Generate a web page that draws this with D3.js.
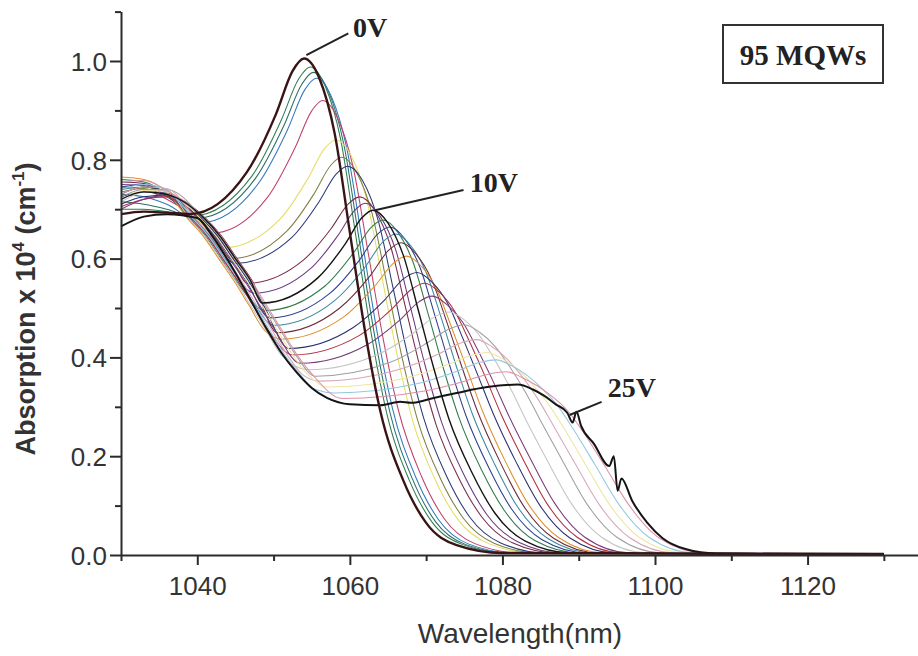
<!DOCTYPE html>
<html>
<head>
<meta charset="utf-8">
<script src="https://cdn.jsdelivr.net/npm/d3@7"></script>
<style>
  body { margin: 0; background: #fff; }
  svg { display: block; }
</style>
</head>
<body>
<svg id="chart" width="918" height="656"></svg>
<script>
// axis ticks
const wavelengthTicks = [1040, 1060, 1080, 1100, 1120];
const wavelengthMinor = [1030, 1050, 1070, 1090, 1110, 1130];
const absorptionTicks = [0, 0.2, 0.4, 0.6, 0.8, 1.0];
const absorptionMinor = [0.1, 0.3, 0.5, 0.7, 0.9, 1.1];

// one spectrum per bias voltage, [wavelength nm, absorption x1e4 cm-1]
const c00 = [[1030,0.69],[1033,0.695],[1036,0.693],[1039,0.69],[1046.5,0.775],[1050.3,0.892],[1052.5,0.98],[1054,1.005],[1056,0.965],[1058,0.854],[1060,0.653],[1062,0.452],[1064,0.291],[1067,0.151],[1070,0.065],[1074,0.02],[1080,0.004],[1130,0.002]];
const c01 = [[1030,0.70],[1033,0.70],[1036,0.695],[1039.5,0.687],[1047.2,0.768],[1051,0.88],[1053.3,0.964],[1054.8,0.988],[1056.8,0.948],[1058.8,0.841],[1060.8,0.644],[1062.8,0.448],[1064.8,0.289],[1067.8,0.151],[1070.8,0.066],[1074.8,0.021],[1080.8,0.004],[1130,0.002]];
const c02 = [[1030,0.715],[1033,0.71],[1036,0.70],[1040,0.682],[1047.6,0.762],[1051.4,0.871],[1053.7,0.953],[1055.2,0.977],[1057.2,0.938],[1059.2,0.832],[1061.2,0.64],[1063.2,0.448],[1065.2,0.292],[1068.2,0.154],[1071.2,0.068],[1075.2,0.021],[1081.2,0.004],[1130,0.002]];
const c03 = [[1030,0.73],[1033,0.725],[1036,0.71],[1040.5,0.673],[1048,0.752],[1051.8,0.86],[1054.1,0.942],[1055.6,0.965],[1057.6,0.927],[1059.6,0.823],[1061.6,0.637],[1063.6,0.449],[1065.6,0.296],[1068.6,0.159],[1071.6,0.072],[1075.6,0.022],[1081.6,0.004],[1130,0.002]];
const c04 = [[1030,0.745],[1033,0.74],[1036,0.72],[1040,0.68],[1042,0.652],[1049.2,0.724],[1052.8,0.824],[1055,0.899],[1056.4,0.92],[1058.4,0.884],[1060.4,0.787],[1062.4,0.612],[1064.4,0.435],[1066.4,0.291],[1069.4,0.159],[1072.4,0.073],[1076.4,0.023],[1082.4,0.004],[1130,0.002]];
const c05 = [[1030,0.74],[1033,0.745],[1036,0.728],[1040,0.68],[1043.5,0.622],[1050.9,0.681],[1054.5,0.762],[1056.7,0.823],[1058.2,0.84],[1060.2,0.807],[1062.2,0.72],[1064.2,0.563],[1066.2,0.405],[1068.2,0.274],[1071.2,0.152],[1074.2,0.071],[1078.2,0.023],[1084.2,0.004],[1130,0.002]];
const c06 = [[1030,0.735],[1033,0.742],[1036,0.726],[1040.3,0.68],[1042.3,0.645],[1044.5,0.60],[1051.7,0.655],[1055.3,0.731],[1057.5,0.789],[1058.9,0.805],[1060.9,0.774],[1062.9,0.692],[1064.9,0.545],[1066.9,0.396],[1068.9,0.272],[1071.9,0.154],[1074.9,0.074],[1078.9,0.024],[1084.9,0.004],[1130,0.002]];
const c07 = [[1030,0.725],[1033,0.735],[1036,0.725],[1039.7,0.68],[1041.7,0.645],[1045,0.59],[1052.4,0.643],[1056,0.716],[1058.2,0.771],[1059.7,0.787],[1061.7,0.757],[1063.7,0.678],[1065.7,0.538],[1067.7,0.396],[1069.7,0.276],[1072.7,0.159],[1075.7,0.077],[1079.7,0.025],[1085.7,0.004],[1130,0.002]];
const c08 = [[1030,0.755],[1033,0.752],[1036,0.728],[1040.6,0.68],[1042.6,0.645],[1044.6,0.60],[1046.5,0.55],[1053.9,0.597],[1057.6,0.662],[1059.8,0.711],[1061.3,0.725],[1063.3,0.697],[1065.3,0.627],[1067.3,0.501],[1069.3,0.374],[1071.3,0.264],[1074.3,0.155],[1077.3,0.077],[1081.3,0.025],[1087.3,0.004],[1130,0.002]];
const c09 = [[1030,0.75],[1033,0.748],[1036,0.726],[1039.4,0.68],[1041.4,0.645],[1043.4,0.60],[1045.4,0.555],[1047.5,0.53],[1054.8,0.579],[1058.4,0.646],[1060.6,0.697],[1062,0.712],[1064,0.685],[1066,0.618],[1068,0.498],[1070,0.376],[1072,0.27],[1075,0.161],[1078,0.081],[1082,0.027],[1088,0.004],[1130,0.002]];
const c10 = [[1030,0.72],[1033,0.735],[1036,0.73],[1041,0.68],[1043,0.645],[1045,0.60],[1047,0.555],[1048.5,0.51],[1055.8,0.561],[1059.4,0.63],[1061.6,0.683],[1063,0.698],[1065,0.672],[1067,0.607],[1069,0.494],[1071,0.378],[1073,0.275],[1076,0.167],[1079,0.085],[1083,0.028],[1089,0.004],[1130,0.002]];
const c11 = [[1030,0.76],[1033,0.755],[1036,0.73],[1039.1,0.68],[1041.1,0.645],[1043.1,0.60],[1045.1,0.555],[1049,0.495],[1056.7,0.544],[1060.5,0.612],[1062.8,0.663],[1064.3,0.678],[1066.3,0.653],[1068.3,0.592],[1070.3,0.486],[1072.3,0.376],[1074.3,0.278],[1077.3,0.171],[1080.3,0.089],[1084.3,0.029],[1090.3,0.004],[1130,0.002]];
const c12 = [[1030,0.745],[1033,0.75],[1036,0.73],[1040.4,0.68],[1042.4,0.645],[1044.4,0.60],[1046.4,0.555],[1049.5,0.48],[1057.4,0.53],[1061.3,0.598],[1063.6,0.649],[1065.2,0.664],[1067.2,0.64],[1069.2,0.582],[1071.2,0.482],[1073.2,0.378],[1075.2,0.283],[1078.2,0.177],[1081.2,0.093],[1085.2,0.031],[1091.2,0.004],[1130,0.002]];
const c13 = [[1030,0.74],[1033,0.745],[1036,0.732],[1039.6,0.68],[1041.6,0.645],[1043.6,0.60],[1045.6,0.555],[1047.6,0.505],[1050,0.465],[1058,0.515],[1062,0.583],[1064.4,0.635],[1066,0.65],[1068,0.626],[1070,0.572],[1072,0.479],[1074,0.38],[1076,0.288],[1079,0.183],[1082,0.097],[1086,0.033],[1092,0.004],[1130,0.002]];
const c14 = [[1030,0.73],[1033,0.745],[1036,0.735],[1041.2,0.68],[1043.2,0.645],[1045.2,0.60],[1047.2,0.555],[1050.5,0.45],[1058.6,0.499],[1062.7,0.566],[1065.1,0.617],[1066.7,0.632],[1068.7,0.609],[1070.7,0.558],[1072.7,0.472],[1074.7,0.38],[1076.7,0.292],[1079.7,0.188],[1082.7,0.101],[1086.7,0.034],[1092.7,0.004],[1130,0.002]];
const c15 = [[1030,0.765],[1033,0.76],[1036,0.735],[1038.8,0.68],[1040.8,0.645],[1042.8,0.60],[1044.8,0.555],[1046.8,0.505],[1048.8,0.455],[1051,0.437],[1059.2,0.482],[1063.3,0.545],[1065.8,0.592],[1067.4,0.605],[1069.4,0.584],[1071.4,0.537],[1073.4,0.458],[1075.4,0.374],[1077.4,0.291],[1080.4,0.189],[1083.4,0.103],[1087.4,0.035],[1093.4,0.004],[1130,0.002]];
const c16 = [[1030,0.71],[1033,0.725],[1036,0.728],[1040.7,0.68],[1042.7,0.645],[1044.7,0.60],[1046.7,0.555],[1048.7,0.505],[1052,0.418],[1060.4,0.46],[1064.6,0.517],[1067.1,0.56],[1068.8,0.572],[1070.8,0.552],[1072.8,0.51],[1074.8,0.439],[1076.8,0.363],[1078.8,0.286],[1081.8,0.188],[1084.8,0.103],[1088.8,0.035],[1094.8,0.004],[1130,0.002]];
const c17 = [[1030,0.705],[1033,0.72],[1036,0.725],[1039.3,0.68],[1041.3,0.645],[1043.3,0.60],[1045.3,0.555],[1047.3,0.505],[1049.3,0.455],[1052.5,0.405],[1061.2,0.444],[1065.5,0.498],[1068.1,0.538],[1069.8,0.55],[1071.8,0.531],[1073.8,0.492],[1075.8,0.428],[1077.8,0.359],[1079.8,0.286],[1082.8,0.191],[1085.8,0.105],[1089.8,0.036],[1095.8,0.004],[1130,0.002]];
const c18 = [[1030,0.70],[1033,0.72],[1036,0.728],[1040.2,0.68],[1042.2,0.645],[1044.2,0.60],[1046.2,0.555],[1048.2,0.505],[1050.2,0.455],[1053.5,0.388],[1062.2,0.425],[1066.5,0.475],[1069.1,0.513],[1070.8,0.524],[1072.8,0.506],[1074.8,0.471],[1076.8,0.414],[1078.8,0.351],[1080.8,0.283],[1083.8,0.191],[1086.8,0.106],[1090.8,0.036],[1096.8,0.004],[1130,0.002]];
const c19 = [[1030,0.715],[1033,0.735],[1036,0.738],[1039,0.68],[1041,0.645],[1043,0.60],[1045,0.555],[1047,0.505],[1049,0.455],[1051,0.405],[1054.5,0.375],[1063.8,0.407],[1068.4,0.45],[1071.2,0.483],[1073,0.492],[1075,0.476],[1077,0.444],[1079,0.395],[1081,0.339],[1083,0.276],[1086,0.188],[1089,0.105],[1093,0.036],[1099,0.004],[1130,0.002]];
const c20 = [[1030,0.725],[1033,0.74],[1036,0.74],[1040.9,0.68],[1042.9,0.645],[1044.9,0.60],[1046.9,0.555],[1048.9,0.505],[1050.9,0.455],[1052.9,0.405],[1055.5,0.362],[1065.3,0.39],[1070.1,0.429],[1073.1,0.458],[1075,0.466],[1077,0.451],[1079,0.423],[1081,0.38],[1083,0.33],[1085,0.272],[1088,0.187],[1091,0.105],[1095,0.036],[1101,0.004],[1130,0.002]];
const c21 = [[1030,0.73],[1033,0.745],[1036,0.742],[1039.8,0.68],[1041.8,0.645],[1043.8,0.60],[1045.8,0.555],[1047.8,0.505],[1049.8,0.455],[1051.8,0.405],[1053.8,0.365],[1056,0.352],[1066.3,0.375],[1071.5,0.406],[1074.5,0.429],[1076.6,0.436],[1078.6,0.422],[1080.6,0.397],[1082.6,0.361],[1084.6,0.317],[1086.6,0.264],[1089.6,0.183],[1092.6,0.104],[1096.6,0.036],[1102.6,0.004],[1130,0.002]];
const c22 = [[1030,0.72],[1033,0.738],[1036,0.735],[1040.5,0.68],[1042.5,0.645],[1044.5,0.60],[1046.5,0.555],[1048.5,0.505],[1050.5,0.455],[1052.5,0.405],[1054.5,0.365],[1057,0.34],[1067.5,0.359],[1072.8,0.385],[1075.9,0.404],[1078,0.41],[1080,0.397],[1082,0.376],[1084,0.344],[1086,0.306],[1088,0.258],[1091,0.18],[1094,0.103],[1098,0.035],[1104,0.004],[1130,0.002]];
const c23 = [[1030,0.74],[1033,0.75],[1036,0.74],[1039.5,0.68],[1041.5,0.645],[1043.5,0.60],[1045.5,0.555],[1047.5,0.505],[1049.5,0.455],[1051.5,0.405],[1053.5,0.365],[1055.5,0.335],[1058,0.328],[1068.6,0.346],[1073.9,0.371],[1077.1,0.39],[1079.2,0.395],[1081.2,0.383],[1083.2,0.364],[1085.2,0.337],[1087.2,0.303],[1089.2,0.257],[1092.2,0.181],[1095.2,0.104],[1099.2,0.036],[1105.2,0.004],[1130,0.002]];
const c24 = [[1030,0.755],[1033,0.758],[1036,0.738],[1041.1,0.68],[1043.1,0.645],[1045.1,0.60],[1047.1,0.555],[1049.1,0.505],[1051.1,0.455],[1053.1,0.405],[1055.1,0.365],[1059,0.317],[1069.8,0.332],[1075.1,0.352],[1078.4,0.367],[1080.5,0.371],[1082.5,0.36],[1084.5,0.343],[1086.5,0.321],[1088.5,0.293],[1090.5,0.251],[1093.5,0.178],[1096.5,0.103],[1100.5,0.035],[1106.5,0.004],[1130,0.002]];
const c25 = [[1030,0.665],[1033,0.685],[1036,0.69],[1040,0.682],[1042,0.645],[1044,0.597],[1046.5,0.53],[1049,0.46],[1051,0.41],[1053,0.37],[1055,0.338],[1057,0.318],[1060,0.305],[1064,0.303],[1066.6,0.31],[1068,0.308],[1071,0.318],[1074,0.328],[1078,0.34],[1082,0.345],[1084,0.335],[1085.5,0.322],[1087,0.305],[1088.5,0.288],[1089.2,0.268],[1089.7,0.29],[1090.3,0.262],[1092,0.225],[1094,0.18],[1094.6,0.2],[1095.1,0.13],[1095.6,0.155],[1097,0.11],[1099,0.065],[1101,0.034],[1104,0.012],[1108,0.003],[1130,0.002]];

const spectra = [c00, c01, c02, c03, c04, c05, c06, c07, c08, c09, c10, c11, c12,
  c13, c14, c15, c16, c17, c18, c19, c20, c21, c22, c23, c24, c25];

const curveColors = ['#3a1414', '#2f7d4f', '#2a6e66', '#2f78c0', '#c0406a', '#e6dc68',
  '#7f8040', '#2a3a7a', '#7a2a4a', '#6a3a80', '#151515', '#2e7a4a', '#2a3f8f',
  '#3a8aa0', '#6a2a3a', '#e0902e', '#2a2f70', '#b03040', '#7a3a7a', '#c4c4c4',
  '#a0a0a0', '#d8a8b8', '#efe6a0', '#94c8e0', '#e090a8', '#151515'];

const callouts = [
  { text: '0V', from: [1054.3, 1.012], to: [1059.8, 1.056], at: [1060.4, 1.0486] },
  { text: '10V', from: [1063.3, 0.698], to: [1074.9, 0.739], at: [1075.7, 0.7354] },
  { text: '25V', from: [1088.8, 0.2834], to: [1093.0, 0.310], at: [1093.8, 0.320] },
];

const svg = d3.select('#chart');
svg.append('rect').attr('width', 918).attr('height', 656).attr('fill', '#fff');

let x = d3.scaleLinear().domain([1030, 1135]).range([121, 922]);
let y = d3.scaleLinear().domain([0, 1.1]).range([555, 11.6]);

let line = d3
  .line()
  .x(d => x(d[0]))
  .y(d => y(d[1]))
  .curve(d3.curveMonotoneX);

// thin curves first, the labelled ones on top
let order = d3.range(1, 25).filter(i => i !== 10).concat([10, 25, 0]);

svg
  .append('g')
  .attr('class', 'spectra')
  .selectAll('path')
  .data(order)
  .enter()
  .append('path')
  .attr('d', i => line(spectra[i]))
  .attr('fill', 'none')
  .attr('stroke', i => curveColors[i])
  .attr('stroke-width', i => (i === 0 ? 2.4 : i === 25 ? 2 : i === 10 ? 1.4 : 1.05))
  .attr('stroke-linejoin', 'round');

// axes
let axisColor = '#2b2b2b';

let xAxis = svg
  .append('g')
  .attr('transform', 'translate(0,555)')
  .call(d3.axisBottom(x).tickValues(wavelengthTicks).tickSize(10).tickSizeOuter(0).tickFormat(d3.format('d')));
svg
  .append('g')
  .attr('transform', 'translate(0,555)')
  .call(d3.axisBottom(x).tickValues(wavelengthMinor).tickSize(6).tickSizeOuter(0).tickFormat(''))
  .select('.domain')
  .remove();

let yAxis = svg
  .append('g')
  .attr('transform', 'translate(121,0)')
  .call(d3.axisLeft(y).tickValues(absorptionTicks).tickSize(11).tickSizeOuter(0).tickFormat(d3.format('.1f')));
svg
  .append('g')
  .attr('transform', 'translate(121,0)')
  .call(d3.axisLeft(y).tickValues(absorptionMinor).tickSize(6).tickSizeOuter(0).tickFormat(''))
  .select('.domain')
  .remove();

svg.selectAll('.domain, .tick line').attr('stroke', axisColor).attr('stroke-width', 2);

xAxis
  .selectAll('.tick text')
  .attr('y', 0)
  .attr('dy', 0)
  .attr('transform', 'translate(0,40)')
  .attr('font-family', 'Liberation Sans, Arial, sans-serif')
  .attr('font-size', 26)
  .attr('fill', '#333');

yAxis
  .selectAll('.tick text')
  .attr('x', -14)
  .attr('dy', '0.36em')
  .attr('font-family', 'Liberation Sans, Arial, sans-serif')
  .attr('font-size', 26)
  .attr('fill', '#333');

// axis titles
svg
  .append('text')
  .attr('x', 520)
  .attr('y', 643)
  .attr('text-anchor', 'middle')
  .attr('font-family', 'Liberation Sans, Arial, sans-serif')
  .attr('font-size', 28)
  .attr('fill', '#333')
  .text('Wavelength(nm)');

let yTitle = svg
  .append('text')
  .attr('transform', 'translate(35,309) rotate(-90)')
  .attr('text-anchor', 'middle')
  .attr('font-family', 'Liberation Sans, Arial, sans-serif')
  .attr('font-weight', 'bold')
  .attr('font-size', 27)
  .attr('fill', '#333');
yTitle.append('tspan').text('Absorption x 10');
yTitle.append('tspan').attr('font-size', 17).attr('dy', -11).text('4');
yTitle.append('tspan').attr('dy', 11).text(' (cm');
yTitle.append('tspan').attr('font-size', 17).attr('dy', -11).text('-1');
yTitle.append('tspan').attr('dy', 11).text(')');

// voltage call-outs
let notes = svg.append('g').attr('class', 'callouts');
notes
  .selectAll('line')
  .data(callouts)
  .enter()
  .append('line')
  .attr('x1', d => x(d.from[0]))
  .attr('y1', d => y(d.from[1]))
  .attr('x2', d => x(d.to[0]))
  .attr('y2', d => y(d.to[1]))
  .attr('stroke', '#222')
  .attr('stroke-width', 2);
notes
  .selectAll('text')
  .data(callouts)
  .enter()
  .append('text')
  .attr('x', d => x(d.at[0]))
  .attr('y', d => y(d.at[1]))
  .attr('font-family', 'Liberation Serif, Times New Roman, serif')
  .attr('font-weight', 'bold')
  .attr('font-size', 28)
  .attr('fill', '#222')
  .text(d => d.text);

// sample box
svg
  .append('rect')
  .attr('x', 723)
  .attr('y', 25)
  .attr('width', 160)
  .attr('height', 58)
  .attr('fill', 'none')
  .attr('stroke', '#333')
  .attr('stroke-width', 2);
svg
  .append('text')
  .attr('x', 803)
  .attr('y', 65)
  .attr('text-anchor', 'middle')
  .attr('font-family', 'Liberation Serif, Times New Roman, serif')
  .attr('font-weight', 'bold')
  .attr('font-size', 29)
  .attr('fill', '#222')
  .text('95 MQWs');
</script>
</body>
</html>
